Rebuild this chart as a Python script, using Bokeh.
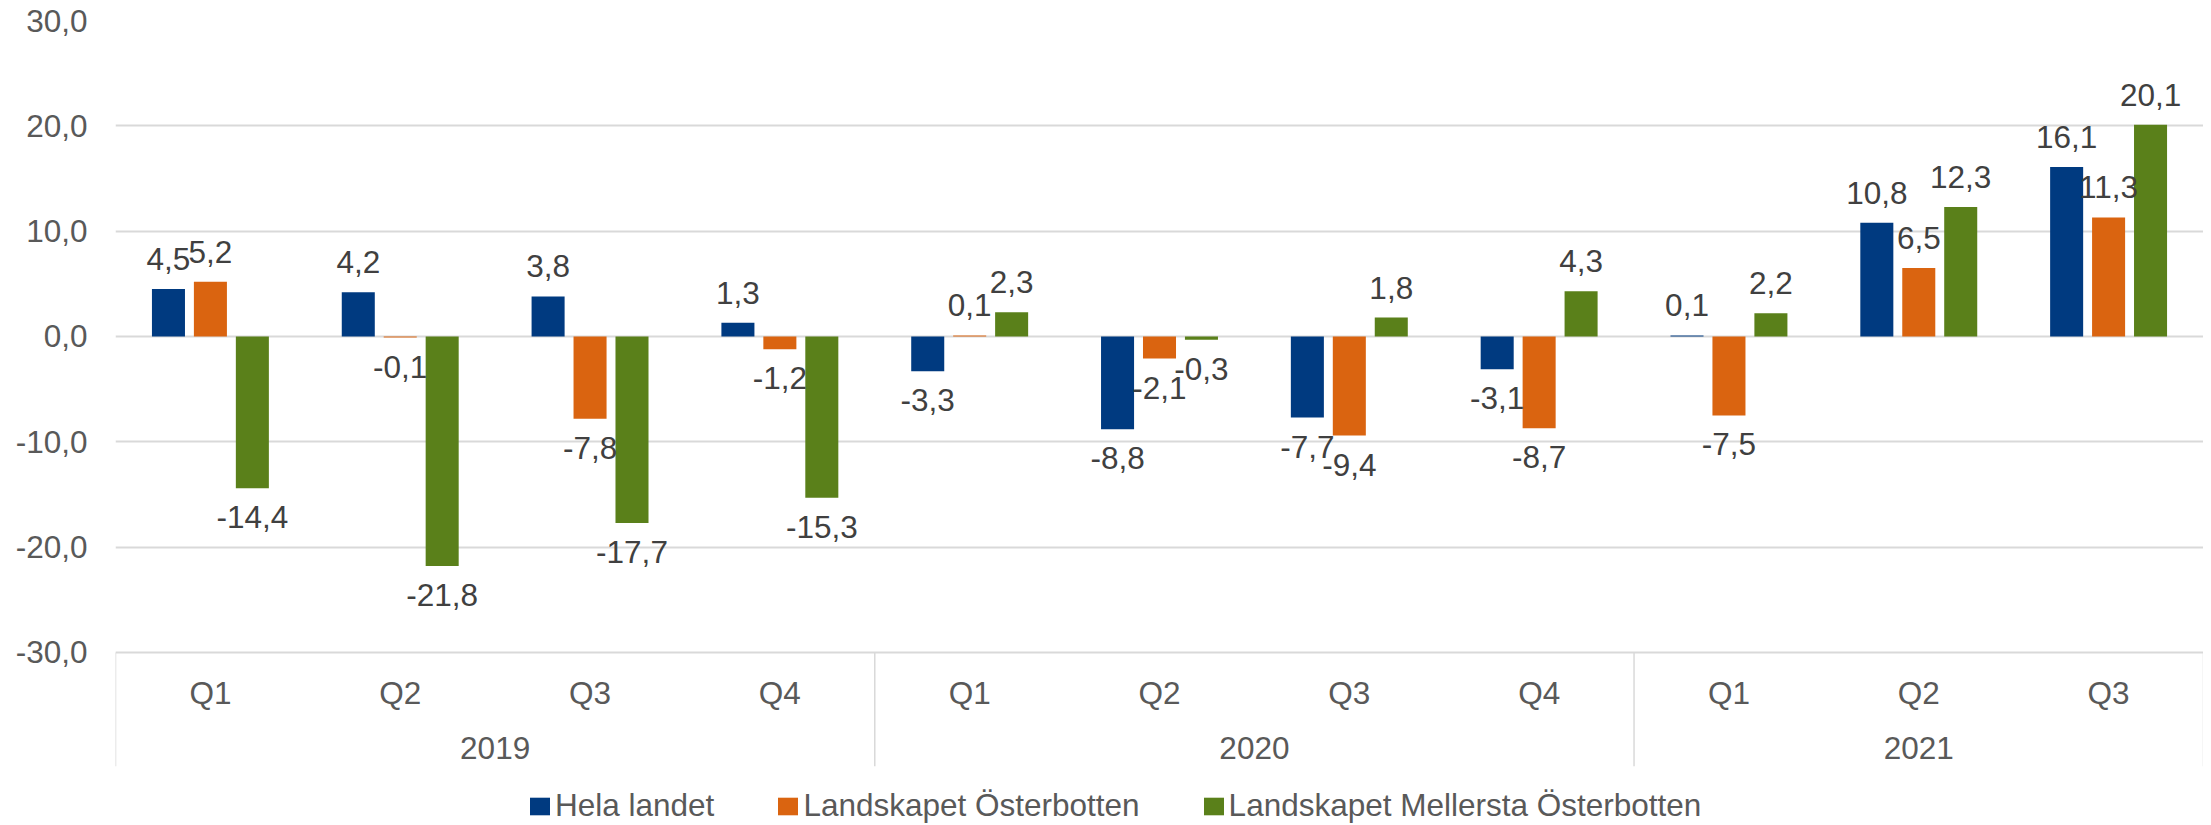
from bokeh.plotting import figure
from bokeh.models import (FactorRange, Range1d, FixedTicker, ColumnDataSource,
                          Legend, LegendItem)
from bokeh.transform import dodge
from bokeh.core.properties import value
from bokeh.embed import file_html
from bokeh.resources import INLINE

# ---------------- data ----------------
years = ["2019", "2020", "2021"]
quarters_per_year = [["Q1", "Q2", "Q3", "Q4"], ["Q1", "Q2", "Q3", "Q4"], ["Q1", "Q2", "Q3"]]
series_names = ["Hela landet", "Landskapet Österbotten", "Landskapet Mellersta Österbotten"]
hela_landet = [4.5, 4.2, 3.8, 1.3, -3.3, -8.8, -7.7, -3.1, 0.1, 10.8, 16.1]
osterbotten = [5.2, -0.1, -7.8, -1.2, 0.1, -2.1, -9.4, -8.7, -7.5, 6.5, 11.3]
mellersta = [-14.4, -21.8, -17.7, -15.3, 2.3, -0.3, 1.8, 4.3, 2.2, 12.3, 20.1]
y_ticks = [-30, -20, -10, 0, 10, 20, 30]
y_tick_labels = ["-30,0", "-20,0", "-10,0", "0,0", "10,0", "20,0", "30,0"]

colors = ["#003A80", "#DA6410", "#5A801A"]
FONT = "Liberation Sans"
FS = "31.5px"

factors = [(y, q) for y, qs in zip(years, quarters_per_year) for q in qs]
n = len(factors)

H = 825
TOP = 20
p = figure(width=2203, height=H, output_backend="svg", toolbar_location=None,
           x_range=FactorRange(*factors, group_padding=0, factor_padding=0,
                               subgroup_padding=0, range_padding=0),
           y_range=Range1d(30 - (H - TOP) / 10.533, 30),
           x_axis_location=None, min_border_left=115, min_border_right=0,
           min_border_top=TOP, min_border_bottom=0)
p.outline_line_color = None
p.background_fill_color = "white"
p.border_fill_color = "white"

# y axis
p.yaxis.ticker = FixedTicker(ticks=y_ticks)
p.yaxis.major_label_overrides = {t: l for t, l in zip(y_ticks, y_tick_labels)}
p.yaxis.axis_line_color = None
p.yaxis.major_tick_line_color = None
p.yaxis.minor_tick_line_color = None
p.yaxis.major_tick_out = 0
p.yaxis.major_label_standoff = 28
p.yaxis.major_label_text_font = FONT
p.yaxis.major_label_text_font_size = FS
p.yaxis.major_label_text_color = "#595959"
p.ygrid.ticker = FixedTicker(ticks=y_ticks)
p.ygrid.grid_line_color = "#d9d9d9"
p.ygrid.grid_line_width = 2
p.xgrid.grid_line_color = None

# bars
offsets = [-0.221, 0.0, 0.221]
all_series = [hela_landet, osterbotten, mellersta]
legend_items = []
for vals, name, col, off in zip(all_series, series_names, colors, offsets):
    src = ColumnDataSource(dict(x=factors, top=vals))
    r = p.vbar(x=dodge("x", off, range=p.x_range), top="top", bottom=0, width=0.174,
               source=src, fill_color=col, line_color=None)
    legend_items.append(LegendItem(label=name, renderers=[r]))

# data labels
for vals, off in zip(all_series, offsets):
    pos = [(f, v) for f, v in zip(factors, vals) if v >= 0]
    neg = [(f, v) for f, v in zip(factors, vals) if v < 0]
    for subset, base, yoff in ((pos, "bottom", -19), (neg, "top", 18)):
        src = ColumnDataSource(dict(x=[s[0] for s in subset], y=[s[1] for s in subset],
                                    t=[f"{s[1]:.1f}".replace(".", ",") for s in subset]))
        p.text(x=dodge("x", off, range=p.x_range), y="y", text="t", source=src,
               text_align="center", text_baseline=base, y_offset=yoff,
               text_font=value(FONT), text_font_size=FS, text_color="#404040")

# category axis: quarter labels, year labels, separators
qsrc = ColumnDataSource(dict(x=factors, t=[f[1] for f in factors], y=[-33.8] * n))
p.text(x="x", y="y", text="t", source=qsrc, text_align="center", text_baseline="middle",
       text_font=value(FONT), text_font_size=FS, text_color="#595959")
ysrc = ColumnDataSource(dict(x=years, t=years, y=[-39.1] * len(years)))
p.text(x="x", y="y", text="t", source=ysrc, text_align="center", text_baseline="middle",
       text_font=value(FONT), text_font_size=FS, text_color="#595959")

first_factors = [(y, qs[0]) for y, qs in zip(years, quarters_per_year)]
last_factor = [factors[-1]]
sep_left = ColumnDataSource(dict(x=first_factors, y0=[-30] * len(first_factors),
                                 y1=[-40.8] * len(first_factors)))
sep_right = ColumnDataSource(dict(x=last_factor, y0=[-30], y1=[-40.8]))
for src, off in ((sep_left, -0.5), (sep_right, 0.5)):
    p.segment(x0=dodge("x", off, range=p.x_range), x1=dodge("x", off, range=p.x_range),
              y0="y0", y1="y1", source=src, line_color="#d9d9d9", line_width=1.5)

legend = Legend(items=legend_items, orientation="horizontal", location=(412, 1),
                glyph_width=25, glyph_height=22, label_standoff=3, spacing=61,
                padding=0, margin=0, border_line_color=None, background_fill_alpha=0,
                label_text_font=FONT, label_text_font_size=FS, label_text_color="#595959")
p.add_layout(legend, "center")

open("out.html", "w").write(file_html(p, INLINE))
